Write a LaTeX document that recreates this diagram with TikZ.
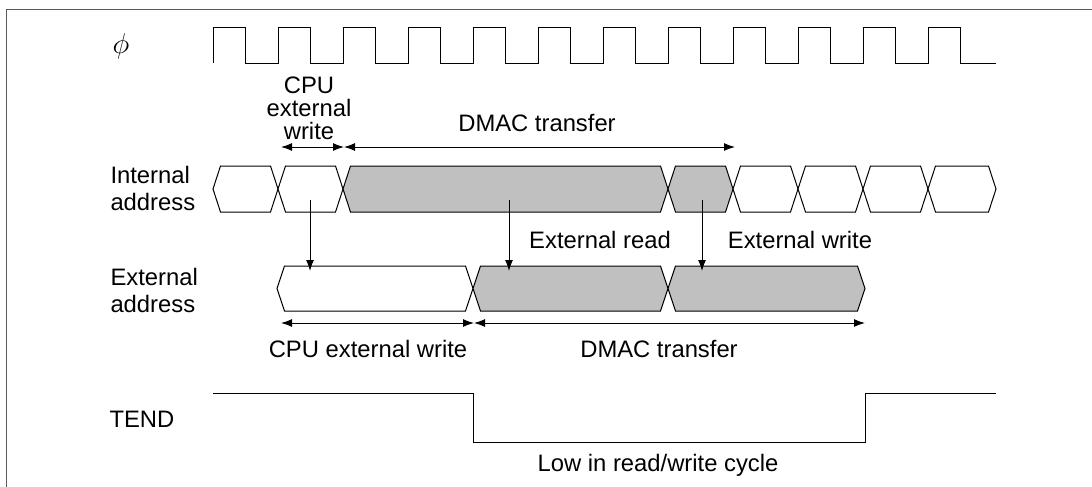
\documentclass[tikz,border=0pt]{standalone}
\usepackage{fontspec}
\setmainfont{Liberation Sans}
\usetikzlibrary{arrows.meta}
\definecolor{busgray}{RGB}{192,192,192}
\definecolor{framegray}{RGB}{90,90,90}
\newcommand\busseg[5]{% fill, a, b, top, bot
  \filldraw[fill=#1] (#2,{(#4+#5)/2}) -- ({#2+7.5},#4) -- ({#3-7.5},#4) -- (#3,{(#4+#5)/2}) -- ({#3-7.5},#5) -- ({#2+7.5},#5) -- cycle;}
\begin{document}
\begin{tikzpicture}[x=0.5pt,y=-0.5pt,line width=0.5pt,
  txt/.style={inner sep=0pt,font=\fontsize{11.9}{14}\selectfont},
  arr/.style={-{Latex[length=5.5pt,width=4pt]}},
  darr/.style={{Latex[length=5.5pt,width=4pt]}-{Latex[length=5.5pt,width=4pt]}}]
\useasboundingbox (0,0) rectangle (1092,487);
% frame
\draw[framegray] (1092,9) -- (6,9) -- (6,487);
% clock
\node[inner sep=0pt,font=\fontsize{14}{16}\selectfont] (phi) at (121,46) {$\phi$};
\draw (213,63) foreach \k in {0,...,11} { -- ({213+65*\k},63) -- ({213+65*\k},27) -- ({245.5+65*\k},27) -- ({245.5+65*\k},63) } -- (996,63);
% top labels
\node[txt,anchor=base] (cpu1) at (309,93) {CPU};
\node[txt,anchor=base] (cpu2) at (309,116) {external};
\node[txt,anchor=base] (cpu3) at (309,139) {write};
\node[txt,anchor=base] (dm1) at (537,131) {DMAC transfer};
\coordinate (ta) at (281,147);
\coordinate (tb) at (344,147);
\coordinate (tc) at (735,147);
\draw[darr] (ta) -- (tb);
\draw[darr] (tb) -- (tc);
% internal address
\node[txt,anchor=base west] (ia1) at (110,183) {Internal};
\node[txt,anchor=base west] (ia2) at (110,210) {address};
\busseg{white}{213}{278}{166}{212}
\busseg{white}{278}{343}{166}{212}
\busseg{busgray}{343}{668}{166}{212}
\busseg{busgray}{668}{733}{166}{212}
\busseg{white}{733}{798}{166}{212}
\busseg{white}{798}{863}{166}{212}
\busseg{white}{863}{928}{166}{212}
\busseg{white}{928}{996}{166}{212}
% external address
\node[txt,anchor=base west] (ea1) at (110,285) {External};
\node[txt,anchor=base west] (ea2) at (110,312) {address};
\busseg{white}{277}{473}{266}{311}
\busseg{busgray}{473}{668}{266}{311}
\busseg{busgray}{668}{865}{266}{311}
% vertical arrows
\coordinate (s1) at (310,200); \coordinate (e1) at (310,271);
\coordinate (s2) at (509,200); \coordinate (e2) at (509,271);
\coordinate (s3) at (702,200); \coordinate (e3) at (702,271);
\draw[arr] (s1) -- (e1);
\draw[arr] (s2) -- (e2);
\draw[arr] (s3) -- (e3);
\node[txt,anchor=base] (er) at (600,248) {External read};
\node[txt,anchor=base] (ew) at (800,248) {External write};
% bottom arrows
\coordinate (ba) at (281,323);
\coordinate (bb) at (474,323);
\coordinate (bc) at (865,323);
\draw[darr] (ba) -- (bb);
\draw[darr] (bb) -- (bc);
\node[txt,anchor=base] (cw) at (368,357) {CPU external write};
\node[txt,anchor=base] (dt) at (659,357) {DMAC transfer};
% TEND
\node[txt,anchor=base west] (tend) at (109,427) {TEND};
\draw (213,393) -- (473,393) -- (473,442) -- (865,442) -- (865,393) -- (996,393);
\node[txt,anchor=base] (low) at (658,471) {Low in read/write cycle};
\end{tikzpicture}
\end{document}
